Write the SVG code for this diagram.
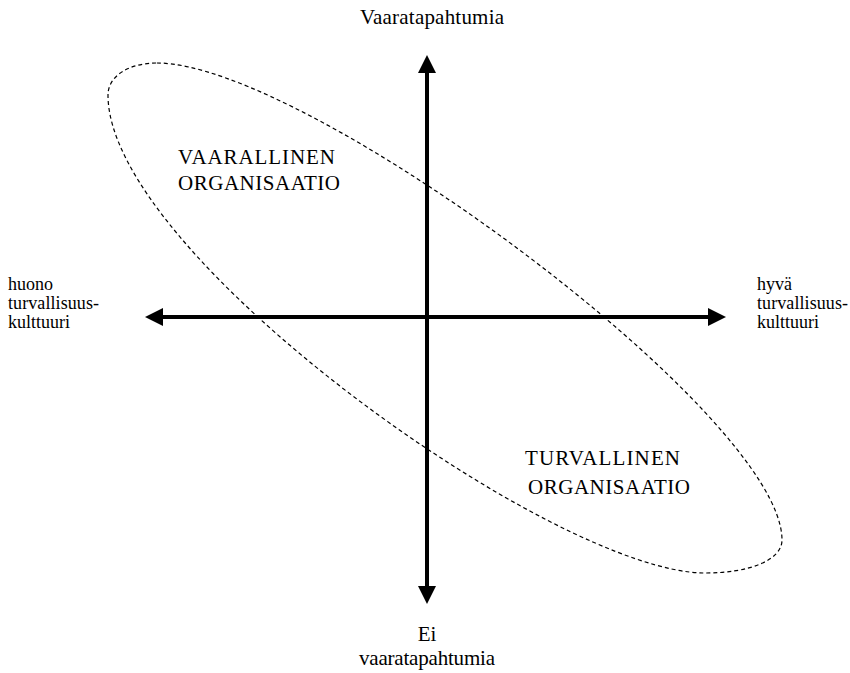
<svg xmlns="http://www.w3.org/2000/svg" width="850" height="673" viewBox="0 0 850 673">
<style>
.t{font-family:"Liberation Serif","Times New Roman",serif;fill:#000}
.big{font-size:21px}
.sm{font-size:18px}
.ax{stroke:#000;stroke-width:4;fill:none}
.ah{fill:#000}
.el{fill:none;stroke:#000;stroke-width:1.2;stroke-dasharray:4 3}
</style>
<rect width="850" height="673" fill="#fff"/>
<g id="connectors">
<line class="ax" x1="427" y1="70" x2="427" y2="590"/>
<polygon class="ah" points="427,55 418,73 436,73"/>
<polygon class="ah" points="427,604 418,586 436,586"/>
<line class="ax" x1="160" y1="317" x2="711" y2="317"/>
<polygon class="ah" points="145,317 163,308 163,326"/>
<polygon class="ah" points="726,317 708,308 708,326"/>
</g>
<g id="ellipse">
<path class="el" d="M157,63 C307,63 782,415 782,540 C782,560 750,573 705,573 C555,573 108,255 108,95 C108,76 129,63 157,63 Z"/>
</g>
<g id="top-label"><text class="t big" x="432" y="24" text-anchor="middle" textLength="144">Vaaratapahtumia</text></g>
<g id="bottom-label"><text class="t big" x="427" y="641" text-anchor="middle">Ei</text><text class="t big" x="427" y="665" text-anchor="middle" textLength="136">vaaratapahtumia</text></g>
<g id="left-label"><text class="t sm" x="8" y="290">huono</text><text class="t sm" x="8" y="309" textLength="91">turvallisuus-</text><text class="t sm" x="8" y="328" textLength="62">kulttuuri</text></g>
<g id="right-label"><text class="t sm" x="757" y="290">hyvä</text><text class="t sm" x="757" y="309" textLength="91">turvallisuus-</text><text class="t sm" x="757" y="328" textLength="62">kulttuuri</text></g>
<g id="vaarallinen"><text class="t big" x="178" y="164" textLength="157">VAARALLINEN</text><text class="t big" x="178" y="190" textLength="162">ORGANISAATIO</text></g>
<g id="turvallinen"><text class="t big" x="525" y="465" textLength="155">TURVALLINEN</text><text class="t big" x="528" y="494" textLength="162">ORGANISAATIO</text></g>
</svg>
